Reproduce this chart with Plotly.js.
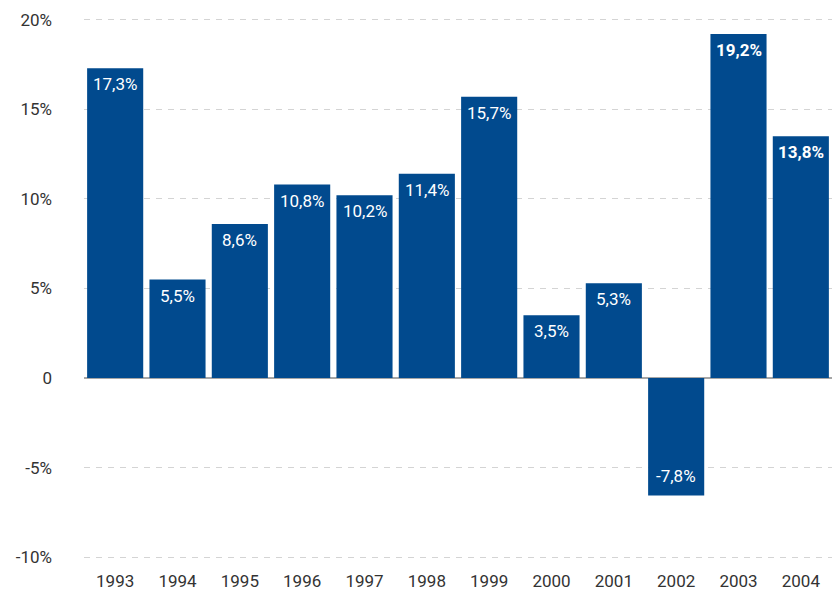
<!DOCTYPE html>
<html>
<head>
<meta charset="utf-8">
<script src="https://cdn.plot.ly/plotly-3.0.1.min.js"></script>
<style>html,body{margin:0;padding:0;background:#fff;}#chart{width:832px;height:591px;}</style>
</head>
<body>
<div id="chart"></div>
<script>
const years = ["1993","1994","1995","1996","1997","1998","1999","2000","2001","2002","2003","2004"];
const values = [17.3, 5.5, 8.6, 10.8, 10.2, 11.4, 15.7, 3.5, 5.3, -6.55, 19.2, 13.5];
const labels = ["17,3%","5,5%","8,6%","10,8%","10,2%","11,4%","15,7%","3,5%","5,3%","-7,8%","19,2%","13,8%"];
const boldLabels = [false,false,false,false,false,false,false,false,false,false,true,true];
const yTickVals = [-10, -5, 0, 5, 10, 15, 20];
const yTickText = ["-10%","-5%","0","5%","10%","15%","20%"];

const FONT = "Roboto, 'DejaVu Sans', sans-serif";
const BAR = "#014a8e";

const annotations = years.map((y, i) => ({
  x: i, y: values[i], xref: "x", yref: "y",
  text: boldLabels[i] ? "<b>" + labels[i] + "</b>" : labels[i],
  showarrow: false,
  yanchor: values[i] >= 0 ? "top" : "bottom",
  yshift: values[i] >= 0 ? -4 : 7,
  font: {family: FONT, size: 17, color: "#ffffff"}
}));

Plotly.newPlot("chart", [{
  type: "bar",
  x: years,
  y: values,
  marker: {color: BAR, line: {width: 0}},
  hoverinfo: "none"
}], {
  width: 832, height: 591,
  margin: {l: 84, r: 0, t: 18, b: 32},
  paper_bgcolor: "#ffffff", plot_bgcolor: "#ffffff",
  bargap: 0.1,
  showlegend: false,
  font: {family: FONT, size: 17, color: "#333333"},
  xaxis: {
    type: "category",
    range: [-0.5, years.length - 0.5],
    showgrid: false, showline: false, zeroline: false, ticks: "",
    tickfont: {family: FONT, size: 17, color: "#333333"},
    ticklabelstandoff: 10
  },
  yaxis: {
    range: [-10.1, 20.1],
    tickvals: yTickVals, ticktext: yTickText,
    showgrid: true, gridcolor: "#d4d4d4", gridwidth: 1, griddash: "6px,6px",
    zeroline: true, zerolinecolor: "#a6a6a6", zerolinewidth: 2,
    showline: false, ticks: "",
    tickfont: {family: FONT, size: 17, color: "#333333"},
    ticklabelstandoff: 31
  },
  annotations: annotations
}, {displayModeBar: false, staticPlot: true});
</script>
</body>
</html>
